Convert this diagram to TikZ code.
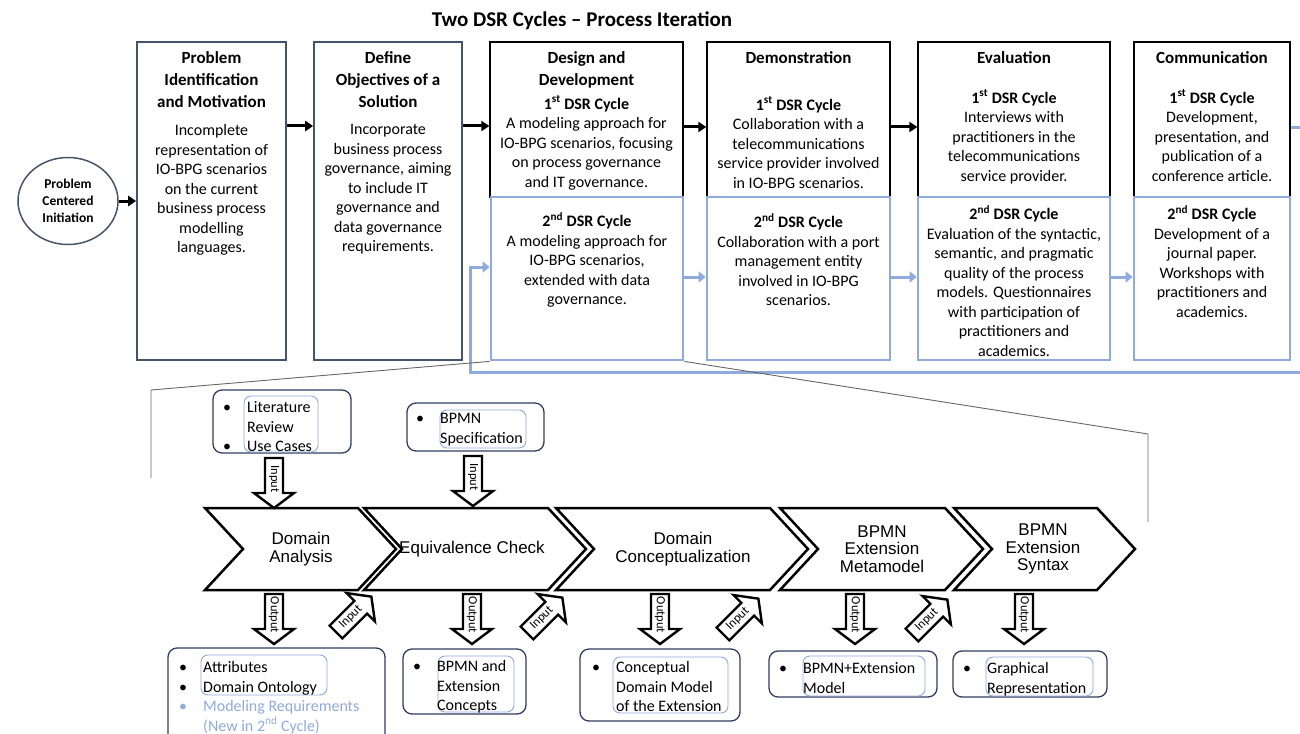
\documentclass[tikz,border=0pt]{standalone}
\usepackage{fontspec}
\setmainfont{Carlito}
\newfontfamily\arialf{Liberation Sans}
\usetikzlibrary{arrows.meta,shapes.geometric}
\definecolor{lblue}{HTML}{8FAADC}
\definecolor{navy}{HTML}{44546A}
\definecolor{dnavy}{HTML}{2F3D5F}
\definecolor{zoomgray}{HTML}{666666}
\newcommand\bul{\makebox[24pt][l]{\textbullet}}
\newcommand\bulsp{\hspace*{24pt}}
\tikzset{
  hd/.style={font=\fontsize{17}{22}\selectfont\bfseries, align=center, inner sep=0, anchor=north},
  bd/.style={font=\fontsize{16}{19.5}\selectfont, align=center, inner sep=0, anchor=north},
  topbox/.style={draw=navy, line width=1.6pt, inner sep=0},
  blkbox/.style={draw=black, line width=1.3pt, inner sep=0},
  bluebox/.style={draw=lblue, line width=2.8pt, inner sep=0},
  arr/.style={line width=3pt, -{Triangle[length=8pt,width=10pt]}},
  barr/.style={draw=lblue, line width=3pt, -{Triangle[length=7pt,width=11pt]}},
  chev/.style={draw=black, line width=2.5pt, line join=miter},
  chevtxt/.style={font=\arialf\fontsize{17}{17.5}\selectfont, align=center, inner sep=0},
  obox/.style={draw=dnavy, line width=1.3pt, rounded corners=9pt},
  ibox/.style={draw=lblue, line width=0.9pt, rounded corners=7pt},
  ltxt/.style={font=\fontsize{16}{19.4}\selectfont, align=left, inner sep=0, anchor=north west},
  blkarrow/.style={draw=black, fill=white, line width=2.4pt, line join=miter},
  arrlab/.style={font=\fontsize{12.5}{13}\selectfont, inner sep=0},
  zoomln/.style={draw=zoomgray, line width=0.9pt},
  barrow/.pic={
    \draw[blkarrow] (0,-9) -- (35,-9) -- (35,-20) -- (50,0) -- (35,20) -- (35,9) -- (0,9) -- cycle;
    \node[arrlab, transform shape] at (21,0) {#1};
  }
}
\begin{document}
\begin{tikzpicture}[x=1pt,y=-1pt]
\useasboundingbox (0,0) rectangle (1300,733);
\clip (0,0) rectangle (1300,733);

% title
\node[font=\fontsize{21}{24}\selectfont\bfseries, inner sep=0] (title) at (582,21) {Two DSR Cycles -- Process Iteration};

% initiation
\node[ellipse, draw=navy, line width=1.5pt, minimum width=100, minimum height=87, inner sep=0,
      font=\fontsize{13.5}{17}\selectfont\bfseries, align=center] (init) at (68,201) {Problem\\Centered\\Initiation};

% top boxes
\node[topbox, minimum width=149, minimum height=318] (b1) at (211.5,201) {};
\node[topbox, minimum width=148, minimum height=318] (b2) at (388,201) {};
\node[blkbox, minimum width=193, minimum height=155] (d1) at (586.5,119.5) {};
\node[blkbox, minimum width=183, minimum height=155] (m1) at (798.5,119.5) {};
\node[blkbox, minimum width=192, minimum height=155] (e1) at (1014,119.5) {};
\node[blkbox, minimum width=156, minimum height=155] (c1) at (1212,119.5) {};
\node[bluebox, minimum width=192, minimum height=163] (d2) at (587,278.5) {};
\node[bluebox, minimum width=183, minimum height=163] (m2) at (798.5,278.5) {};
\node[bluebox, minimum width=192, minimum height=163] (e2) at (1014,278.5) {};
\node[bluebox, minimum width=156, minimum height=163] (c2) at (1212,278.5) {};

% texts top
\node[hd] (b1h) at (211.5,51) {Problem\\Identification\\and Motivation};
\node[bd] (b1t) at (211.5,124.5) {Incomplete\\representation of\\IO-BPG scenarios\\on the current\\business process\\modelling\\languages.};
\node[hd] (b2h) at (388,51) {Define\\Objectives of a\\Solution};
\node[bd] (b2t) at (388,124.5) {Incorporate\\business process\\governance, aiming\\to include IT\\governance and\\data governance\\requirements.};

\node[hd] (d1h) at (586.5,51) {Design and\\Development};
\node[bd] (d1t) at (586.5,95.5) {\textbf{1\textsuperscript{st} DSR Cycle}\\A modeling approach for\\IO-BPG scenarios, focusing\\on process governance\\and IT governance.};
\node[bd] (d2t) at (587,212.5) {\textbf{2\textsuperscript{nd} DSR Cycle}\\A modeling approach for\\IO-BPG scenarios,\\extended with data\\governance.};

\node[hd] (m1h) at (798.5,51) {Demonstration};
\node[bd] (m1t) at (798.5,96.5) {\textbf{1\textsuperscript{st} DSR Cycle}\\Collaboration with a\\telecommunications\\service provider involved\\in IO-BPG scenarios.};
\node[bd] (m2t) at (798.5,213.5) {\textbf{2\textsuperscript{nd} DSR Cycle}\\Collaboration with a port\\management entity\\involved in IO-BPG\\scenarios.};

\node[hd] (e1h) at (1014,51) {Evaluation};
\node[bd] (e1t) at (1014,89.5) {\textbf{1\textsuperscript{st} DSR Cycle}\\Interviews with\\practitioners in the\\telecommunications\\service provider.};
\node[bd] (e2t) at (1014,205.5) {\textbf{2\textsuperscript{nd} DSR Cycle}\\Evaluation of the syntactic,\\semantic, and pragmatic\\quality of the process\\models. Questionnaires\\with participation of\\practitioners and\\academics.};

\node[hd] (c1h) at (1212,51) {Communication};
\node[bd] (c1t) at (1212,89.5) {\textbf{1\textsuperscript{st} DSR Cycle}\\Development,\\presentation, and\\publication of a\\conference article.};
\node[bd] (c2t) at (1212,205.5) {\textbf{2\textsuperscript{nd} DSR Cycle}\\Development of a\\journal paper.\\Workshops with\\practitioners and\\academics.};

% black arrows
\coordinate (ya) at (0,126);
\coordinate (yb) at (0,127);
\draw[arr] (init.east) -- (b1.west |- init.east);
\draw[arr] (b1.east |- ya) -- (b2.west |- ya);
\draw[arr] (b2.east |- ya) -- (d1.west |- ya);
\draw[arr] (d1.east |- yb) -- (m1.west |- yb);
\draw[arr] (m1.east |- yb) -- (e1.west |- yb);

% blue arrows
\coordinate (yc) at (0,277);
\coordinate (yd) at (0,267);
\coordinate (yf) at (0,128);
\draw[barr] (d2.east |- yc) -- (m2.west |- yc);
\draw[barr] (m2.east |- yc) -- (e2.west |- yc);
\draw[barr] (e2.east |- yc) -- (c2.west |- yc);
\draw[barr, line join=miter] (c1.east |- yf) -- (1307,128) -- (1307,372) -- (470,372) -- (470,267) -- (d2.west |- yd);

% zoom lines
\draw[zoomln] (d2.south west) -- (151,390) -- (151,478);
\draw[zoomln] (d2.south east) -- (1148,434) -- (1148,522);

% chevrons
\draw[chev] (205,508) -- (358,508) -- (396,549) -- (358,590) -- (205,590) -- (243,549) -- cycle;
\draw[chev] (364,508) -- (548,508) -- (586,549) -- (548,590) -- (364,590) -- (402,549) -- cycle;
\draw[chev] (556,508) -- (770,508) -- (808,549) -- (770,590) -- (556,590) -- (594,549) -- cycle;
\draw[chev] (780,508) -- (945,508) -- (983,549) -- (945,590) -- (780,590) -- (818,549) -- cycle;
\draw[chev] (954,508) -- (1097,508) -- (1135,549) -- (1097,590) -- (954,590) -- (992,549) -- cycle;
\node[chevtxt] (k1) at (301,549) {Domain\\Analysis};
\node[chevtxt] (k2) at (472,549) {Equivalence Check};
\node[chevtxt] (k3) at (683,549) {Domain\\Conceptualization};
\node[chevtxt] (k4) at (882,549) {BPMN\\Extension\\Metamodel};
\node[chevtxt] (k5) at (1043,549) {BPMN\\Extension\\Syntax};

% input boxes
\draw[obox] (213,390) rectangle (351,453);
\draw[ibox] (244,396) rectangle (318,452);
\node[ltxt] (inA) at (223,401.5) {\bul Literature\\\bulsp Review\\\bul Use Cases};
\draw[obox] (407,403) rectangle (544,451);
\draw[ibox] (440,410) rectangle (526,448);
\node[ltxt] (inB) at (416,413.5) {\bul BPMN\\\bulsp Specification};

% input vertical arrows
\pic[rotate=-90] at (274,458) {barrow=Input};
\pic[rotate=-90] at (473,456) {barrow=Input};

% output arrows
\pic[rotate=-90] at (274,594) {barrow=Output};
\pic[rotate=-90] at (472,594) {barrow=Output};
\pic[rotate=-90] at (660,594) {barrow=Output};
\pic[rotate=-90] at (855,594) {barrow=Output};
\pic[rotate=-90] at (1024,594) {barrow=Output};

% diagonal input arrows
\pic[rotate=45] at (336,632) {barrow=Input};
\pic[rotate=45] at (527,633) {barrow=Input};
\pic[rotate=45] at (723,634) {barrow=Input};
\pic[rotate=45] at (912,635) {barrow=Input};

% output boxes
\draw[obox] (168,648) rectangle (385,750);
\draw[ibox] (201,655) rectangle (327,695);
\node[ltxt] (o1) at (179,661.5) {\bul Attributes\\\bul Domain Ontology\\{\color{lblue}\bul Modeling Requirements}\\{\color{lblue}\bulsp (New in 2\textsuperscript{nd} Cycle)}};

\draw[obox] (403,649) rectangle (526,714);
\draw[ibox] (438,656) rectangle (514,712);
\node[ltxt] (o2) at (413,660.5) {\bul BPMN and\\\bulsp Extension\\\bulsp Concepts};

\draw[obox] (580,649) rectangle (740,721);
\draw[ibox] (613,657) rectangle (728,713);
\node[ltxt] (o3) at (592,661.5) {\bul Conceptual\\\bulsp Domain Model\\\bulsp of the Extension};

\draw[obox] (769,651) rectangle (937,697);
\draw[ibox] (803,656) rectangle (925,696);
\node[ltxt] (o4) at (779,662.5) {\bul BPMN+Extension\\\bulsp Model};

\draw[obox] (953,651) rectangle (1107,697);
\draw[ibox] (986,657) rectangle (1093,696);
\node[ltxt] (o5) at (963,662.5) {\bul Graphical\\\bulsp Representation};
\end{tikzpicture}
\end{document}
